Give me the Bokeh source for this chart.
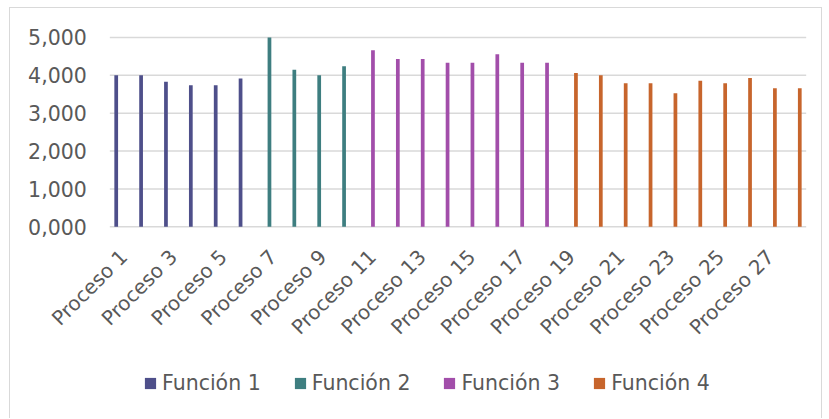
import math
from bokeh.plotting import figure
from bokeh.models import ColumnDataSource, Legend, LegendItem, Range1d
from bokeh.core.properties import value
from bokeh.embed import file_html
from bokeh.resources import INLINE

procesos = ["Proceso %d" % i for i in range(1, 29)]
series = ["Función 1", "Función 2", "Función 3", "Función 4"]
colors = ["#4e4f8a", "#3e7e80", "#a24eaa", "#c7652c"]

funcion1_idx = list(range(0, 6))
funcion1_vals = [4.00, 4.00, 3.83, 3.74, 3.74, 3.92]
funcion2_idx = list(range(6, 10))
funcion2_vals = [5.00, 4.15, 4.00, 4.24]
funcion3_idx = list(range(10, 18))
funcion3_vals = [4.66, 4.43, 4.43, 4.33, 4.33, 4.56, 4.33, 4.33]
funcion4_idx = list(range(18, 28))
funcion4_vals = [4.06, 4.00, 3.79, 3.79, 3.53, 3.86, 3.79, 3.93, 3.66, 3.66]

x_ticks = list(range(0, 28, 2))
x_tick_labels = [procesos[i] for i in x_ticks]
y_ticks = [0, 1, 2, 3, 4, 5]
y_tick_labels = ["0,000", "1,000", "2,000", "3,000", "4,000", "5,000"]

FONT = "DejaVu Sans"
TXT = "#595959"
GRID = "#d9d9d9"

cat_min = -0.5
cat_max = len(procesos) - 0.5

# the frame covers the whole chart area so that every text can be drawn inside it
p = figure(frame_width=810, frame_height=393, x_range=Range1d(-4.453, 28.116), y_range=Range1d(-4.85, 5.528),
           output_backend="svg", toolbar_location=None,
           min_border_left=1, min_border_right=0, min_border_top=9, min_border_bottom=8)
p.styles = {"border-left": "1px solid #d9d9d9", "border-top": "1px solid #d9d9d9",
            "border-right": "1px solid #d9d9d9", "margin-left": "9px", "margin-top": "7px"}
p.outline_line_color = None
p.background_fill_color = "white"
p.xaxis.visible = False
p.yaxis.visible = False
p.xgrid.grid_line_color = None
p.ygrid.grid_line_color = None

# value gridlines and their labels
p.segment(x0=cat_min, x1=cat_max, y0=y_ticks, y1=y_ticks, line_color=GRID, line_width=1.5)
p.text(x=cat_min, y=y_ticks, text=y_tick_labels, x_offset=-23, text_align="right",
       text_baseline="middle", text_font=value(FONT), text_font_size=value("20.5px"),
       text_color=TXT)

data = [(funcion1_idx, funcion1_vals), (funcion2_idx, funcion2_vals),
        (funcion3_idx, funcion3_vals), (funcion4_idx, funcion4_vals)]
offsets = [-0.2425, -0.0808, 0.0808, 0.2425]
items = []
for (idx, vals), off, col, name in zip(data, offsets, colors, series):
    src = ColumnDataSource(dict(x=[i + off for i in idx], top=vals))
    r = p.vbar(x="x", top="top", bottom=0, width=0.15,
               source=src, fill_color=col, line_color=None)
    items.append(LegendItem(label=name, renderers=[r]))

# category labels (every second process), rotated 45 degrees under the baseline
lab_src = ColumnDataSource(dict(x=x_ticks, y=[0] * len(x_ticks), text=x_tick_labels))
p.text(x="x", y="y", text="text", source=lab_src, angle=math.pi / 4,
       x_offset=-7, y_offset=18, text_align="right", text_baseline="top",
       text_font=value(FONT), text_font_size=value("20px"), text_color=TXT)

legend = Legend(items=items, orientation="horizontal", location=(132, 15),
                glyph_width=14, glyph_height=14, label_standoff=5, spacing=32,
                padding=0, margin=0, border_line_color=None, background_fill_alpha=0,
                label_text_font=FONT, label_text_font_size="20.5px", label_text_color=TXT)
p.add_layout(legend, "center")

open("out.html", "w").write(file_html(p, INLINE))
